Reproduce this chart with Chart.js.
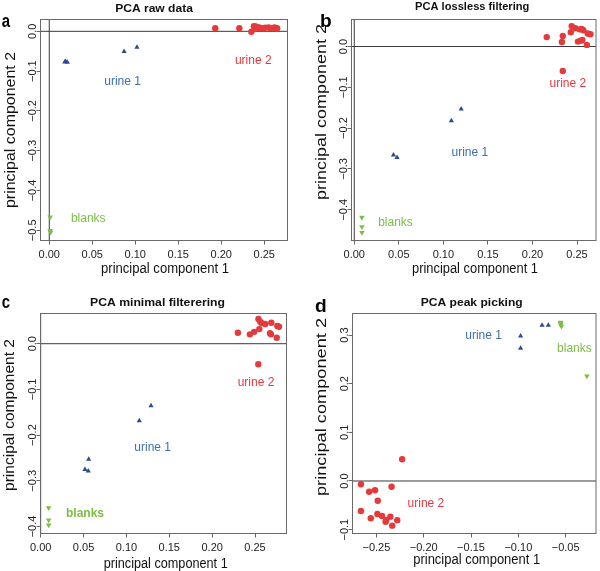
<!DOCTYPE html>
<html>
<head>
<meta charset="utf-8">
<title>PCA</title>
<script src="https://cdn.jsdelivr.net/npm/chart.js@4.4.1/dist/chart.umd.min.js"></script>
<style>
  body { margin: 0; background: #fff; }
  #figure { position: relative; width: 600px; height: 571px; overflow: hidden; }
  canvas { position: absolute; }
</style>
</head>
<body>
<div id="figure">
  <canvas id="panel-a" width="300" height="285" style="left:0;top:0"></canvas>
  <canvas id="panel-b" width="300" height="285" style="left:300px;top:0"></canvas>
  <canvas id="panel-c" width="300" height="286" style="left:0;top:285px"></canvas>
  <canvas id="panel-d" width="300" height="286" style="left:300px;top:285px"></canvas>
</div>
<script>
const groupNames = ['urine 2', 'urine 1', 'blanks']
const titles = ['PCA raw data', 'PCA lossless filtering', 'PCA minimal filterering', 'PCA peak picking']
const letters = ['a', 'b', 'c', 'd']

// a: raw data
const rawUrine2X = [0.193, 0.221, 0.235, 0.238, 0.240, 0.241, 0.243, 0.245, 0.249, 0.251, 0.255, 0.257, 0.262, 0.263, 0.265, 0.239]
const rawUrine2Y = [0.008, 0.008, -0.001, 0.013, 0.012, 0.008, 0.010, 0.009, 0.008, 0.009, 0.010, 0.008, 0.010, 0.007, 0.008, 0.006]
const rawUrine1X = [0.019, 0.021, 0.087, 0.102, 0.018]
const rawUrine1Y = [-0.076, -0.078, -0.051, -0.040, -0.077]
const rawBlanksX = [0.001, 0.001, 0.0015]
const rawBlanksY = [-0.467, -0.501, -0.505]

// b: lossless filtering
const lossUrine2X = [0.216, 0.234, 0.233, 0.244, 0.243, 0.248, 0.253, 0.257, 0.262, 0.251, 0.254, 0.256, 0.261, 0.234, 0.265, 0.255]
const lossUrine2Y = [0.023, 0.026, 0.011, 0.050, 0.035, 0.045, 0.042, 0.040, 0.032, 0.012, 0.014, 0.016, 0.004, -0.060, 0.030, 0.043]
const lossUrine1X = [0.120, 0.109, 0.044, 0.048]
const lossUrine1Y = [-0.153, -0.182, -0.266, -0.272]
const lossBlanksX = [0.0086, 0.0086, 0.0086]
const lossBlanksY = [-0.419, -0.442, -0.456]

// c: minimal filtering
const minUrine2X = [0.230, 0.244, 0.249, 0.254, 0.256, 0.258, 0.262, 0.269, 0.276, 0.278, 0.2675, 0.2686, 0.2753, 0.255, 0.2538]
const minUrine2Y = [0.024, 0.0205, 0.026, 0.054, 0.048, 0.045, 0.043, 0.046, 0.039, 0.037, 0.023, 0.0205, 0.013, 0.032, -0.045]
const minUrine1X = [0.056, 0.0517, 0.0555, 0.115, 0.1287]
const minUrine1Y = [-0.253, -0.275, -0.2785, -0.1685, -0.1357]
const minBlanksX = [0.0093, 0.0093, 0.0093]
const minBlanksY = [-0.359, -0.386, -0.397]

// d: peak picking
const peakUrine2X = [-0.2228, -0.2664, -0.2577, -0.2515, -0.234, -0.2486, -0.2664, -0.256, -0.249, -0.2441, -0.2395, -0.2353, -0.2333, -0.228, -0.2403]
const peakUrine2Y = [0.0446, -0.0068, -0.022, -0.019, -0.0117, -0.0405, -0.0616, -0.0767, -0.0678, -0.0719, -0.080, -0.0733, -0.0918, -0.0808, -0.0836]
const peakUrine1X = [-0.0749, -0.0683, -0.0976, -0.0976]
const peakUrine1Y = [0.320, 0.320, 0.298, 0.2726]
const peakBlanksX = [-0.0553, -0.0555, -0.055, -0.0545, -0.0553, -0.0275]
const peakBlanksY = [0.326, 0.323, 0.322, 0.318, 0.325, 0.2157]

// tick values
const posTicksX = [0, 0.05, 0.1, 0.15, 0.2, 0.25]
const peakTicksX = [-0.25, -0.2, -0.15, -0.1, -0.05]
const rawTicksY = [0, -0.1, -0.2, -0.3, -0.4, -0.5]
const filtTicksY = [0, -0.1, -0.2, -0.3, -0.4]
const peakTicksY = [-0.1, 0, 0.1, 0.2, 0.3]

// where the group names sit (urine 2, urine 1, blanks)
const rawLabelX = [0.2372, 0.0853, 0.0453]
const rawLabelY = [-0.0746, -0.1266, -0.470]
const lossLabelX = [0.2397, 0.1297, 0.0463]
const lossLabelY = [-0.0903, -0.2594, -0.432]
const minLabelX = [0.2511, 0.1306, 0.0517]
const minLabelY = [-0.0853, -0.2267, -0.3727]
const peakLabelX = [-0.1977, -0.1367, -0.0407]
const peakLabelY = [-0.0458, 0.298, 0.2726]

const fontFamily = "'Liberation Sans', Arial, Helvetica, sans-serif"
const red = '#e33a3c'
const blue = '#2c4b92'
const blueText = '#4070a8'
const green = '#7bbd45'
const labelColors = [red, blueText, green]

function points(xs, ys) {
  return xs.map((x, i) => ({ x: x, y: ys[i] }))
}

function fmt(v, digits) {
  const s = (Math.abs(v) < 1e-9 ? 0 : v).toFixed(digits)
  return s.replace('-', '\u2212')
}

// draws text, optionally squeezed/stretched to a given width
function drawText(ctx, text, x, y, font, width, angle) {
  ctx.save()
  ctx.font = font
  ctx.translate(x, y)
  if (angle) ctx.rotate(angle)
  if (width) ctx.scale(width / ctx.measureText(text).width, 1)
  ctx.fillText(text, 0, 0)
  ctx.restore()
}

function makePanel(id, p) {
  const canvas = document.getElementById(id)
  const W = canvas.width, H = canvas.height
  const [left, top, right, bottom] = p.box

  const decor = {
    id: 'pcaDecor',
    beforeDatasetsDraw(chart) {
      const ctx = chart.ctx, xs = chart.scales.x, ys = chart.scales.y, area = chart.chartArea
      ctx.save()
      ctx.strokeStyle = '#3a3a3a'
      ctx.lineWidth = 1
      ctx.beginPath()
      const y0 = ys.getPixelForValue(0)
      ctx.moveTo(area.left, y0)
      ctx.lineTo(area.right, y0)
      if (xs.min < 0 && xs.max > 0) {
        const x0 = xs.getPixelForValue(0)
        ctx.moveTo(x0, area.top)
        ctx.lineTo(x0, area.bottom)
      }
      ctx.stroke()
      ctx.restore()
    },
    afterDraw(chart) {
      const ctx = chart.ctx, xs = chart.scales.x, ys = chart.scales.y, area = chart.chartArea
      ctx.save()
      // plot box
      ctx.strokeStyle = '#6a6a6a'
      ctx.lineWidth = 1
      ctx.strokeRect(area.left, area.top, area.right - area.left, area.bottom - area.top)

      // y tick labels, rotated like R does
      ctx.fillStyle = '#222'
      ctx.textAlign = 'center'
      ctx.textBaseline = 'alphabetic'
      p.yTicks.forEach(v => {
        drawText(ctx, fmt(v, 1), area.left - 5, ys.getPixelForValue(v), '11px ' + fontFamily, 0, -Math.PI / 2)
      })

      // group names
      ctx.textBaseline = 'middle'
      for (let i = 0; i < 3; i++) {
        ctx.fillStyle = labelColors[i]
        const bold = p.boldBlanks && i === 2 ? 'bold ' : ''
        drawText(ctx, groupNames[i], xs.getPixelForValue(p.labelX[i]), ys.getPixelForValue(p.labelY[i]), bold + '12px ' + fontFamily)
      }

      // titles and axis titles
      ctx.fillStyle = '#111'
      ctx.textBaseline = 'alphabetic'
      drawText(ctx, p.title, p.titlePos[0], p.titlePos[1], 'bold 11.5px ' + fontFamily, p.titlePos[2])
      drawText(ctx, 'principal component 1', p.xTitle[0], p.xTitle[1], '15.5px ' + fontFamily, p.xTitle[2])
      drawText(ctx, 'principal component 2', p.yTitle[0], p.yTitle[1], '15.5px ' + fontFamily, p.yTitle[2], -Math.PI / 2)
      ctx.textAlign = 'left'
      ctx.fillStyle = '#000'
      drawText(ctx, p.letter, p.letterPos[0], p.letterPos[1], 'bold 18px ' + fontFamily, p.letterPos[2])
      ctx.restore()
    }
  }

  new Chart(canvas, {
    type: 'scatter',
    data: {
      datasets: [
        { label: groupNames[0], data: points(p.u2x, p.u2y), pointStyle: 'circle', pointRadius: 3.2,
          pointBackgroundColor: red, pointBorderColor: red, pointBorderWidth: 0 },
        { label: groupNames[1], data: points(p.u1x, p.u1y), pointStyle: 'triangle', pointRadius: 3,
          pointBackgroundColor: blue, pointBorderColor: blue, pointBorderWidth: 0 },
        { label: groupNames[2], data: points(p.blx, p.bly), pointStyle: 'triangle', pointRotation: 180, pointRadius: 3.2,
          pointBackgroundColor: green, pointBorderColor: green, pointBorderWidth: 0 }
      ]
    },
    options: {
      responsive: false,
      animation: false,
      events: [],
      layout: { padding: { left: 0, top: top, right: W - right, bottom: 0 } },
      plugins: { legend: { display: false }, tooltip: { enabled: false } },
      scales: {
        x: {
          type: 'linear', min: p.xMin, max: p.xMax,
          afterBuildTicks: s => { s.ticks = p.xTicks.map(v => ({ value: v })) },
          afterFit: s => { s.height = H - bottom; s.paddingLeft = 0; s.paddingRight = 0 },
          grid: { drawOnChartArea: false, drawTicks: true, tickLength: 4, color: '#666' },
          border: { display: false },
          ticks: { autoSkip: false, maxRotation: 0, padding: 4, color: '#222',
                   font: { family: fontFamily, size: 11 }, callback: v => fmt(v, 2) }
        },
        y: {
          type: 'linear', min: p.yMin, max: p.yMax,
          afterBuildTicks: s => { s.ticks = p.yTicks.map(v => ({ value: v })) },
          afterFit: s => { s.width = left; s.paddingTop = 0; s.paddingBottom = 0 },
          grid: { drawOnChartArea: false, drawTicks: true, tickLength: 4, color: '#666' },
          border: { display: false },
          ticks: { display: false }
        }
      }
    },
    plugins: [decor]
  })
}

makePanel('panel-a', {
  u2x: rawUrine2X, u2y: rawUrine2Y, u1x: rawUrine1X, u1y: rawUrine1Y, blx: rawBlanksX, bly: rawBlanksY,
  labelX: rawLabelX, labelY: rawLabelY, xTicks: posTicksX, yTicks: rawTicksY,
  xMin: -0.0102, xMax: 0.2770, yMin: -0.5256, yMax: 0.0297,
  box: [40.5, 19.5, 287.5, 240.5],
  title: titles[0], titlePos: [154, 11.5, 77.7],
  xTitle: [165, 273.3, 128], yTitle: [15, 130, 156],
  letter: letters[0], letterPos: [1.7, 26.7, 8.3]
})

makePanel('panel-b', {
  u2x: lossUrine2X, u2y: lossUrine2Y, u1x: lossUrine1X, u1y: lossUrine1Y, blx: lossBlanksX, bly: lossBlanksY,
  labelX: lossLabelX, labelY: lossLabelY, xTicks: posTicksX, yTicks: filtTicksY,
  xMin: -0.0031, xMax: 0.2713, yMin: -0.4755, yMax: 0.0662,
  box: [51.5, 19.5, 298.5, 240.5],
  title: titles[1], titlePos: [172.2, 9.5, 114.3],
  xTitle: [175, 273.3, 126], yTitle: [26, 112, 176],
  letter: letters[1], letterPos: [20, 26.7, 11.7]
})

makePanel('panel-c', {
  u2x: minUrine2X, u2y: minUrine2Y, u1x: minUrine1X, u1y: minUrine1Y, blx: minBlanksX, bly: minBlanksY,
  labelX: minLabelX, labelY: minLabelY, xTicks: posTicksX, yTicks: filtTicksY, boldBlanks: true,
  xMin: -0.0002, xMax: 0.2867, yMin: -0.4153, yMax: 0.0661,
  box: [40.5, 28.5, 286.5, 248.5],
  title: titles[2], titlePos: [157.5, 20.7, 135],
  xTitle: [165.7, 283.3, 124], yTitle: [13.5, 130, 152],
  letter: letters[2], letterPos: [1.7, 22.7, 8.3]
})

makePanel('panel-d', {
  u2x: peakUrine2X, u2y: peakUrine2Y, u1x: peakUrine1X, u1y: peakUrine1Y, blx: peakBlanksX, bly: peakBlanksY,
  labelX: peakLabelX, labelY: peakLabelY, xTicks: peakTicksX, yTicks: peakTicksY,
  xMin: -0.2753, xMax: -0.0179, yMin: -0.1079, yMax: 0.3442,
  box: [52.5, 28.5, 298.5, 248.5],
  title: titles[3], titlePos: [171.7, 20.7, 102],
  xTitle: [176.7, 279.3, 127], yTitle: [26, 122, 178],
  letter: letters[3], letterPos: [15, 26.7, 11.7]
})
</script>
</body>
</html>
